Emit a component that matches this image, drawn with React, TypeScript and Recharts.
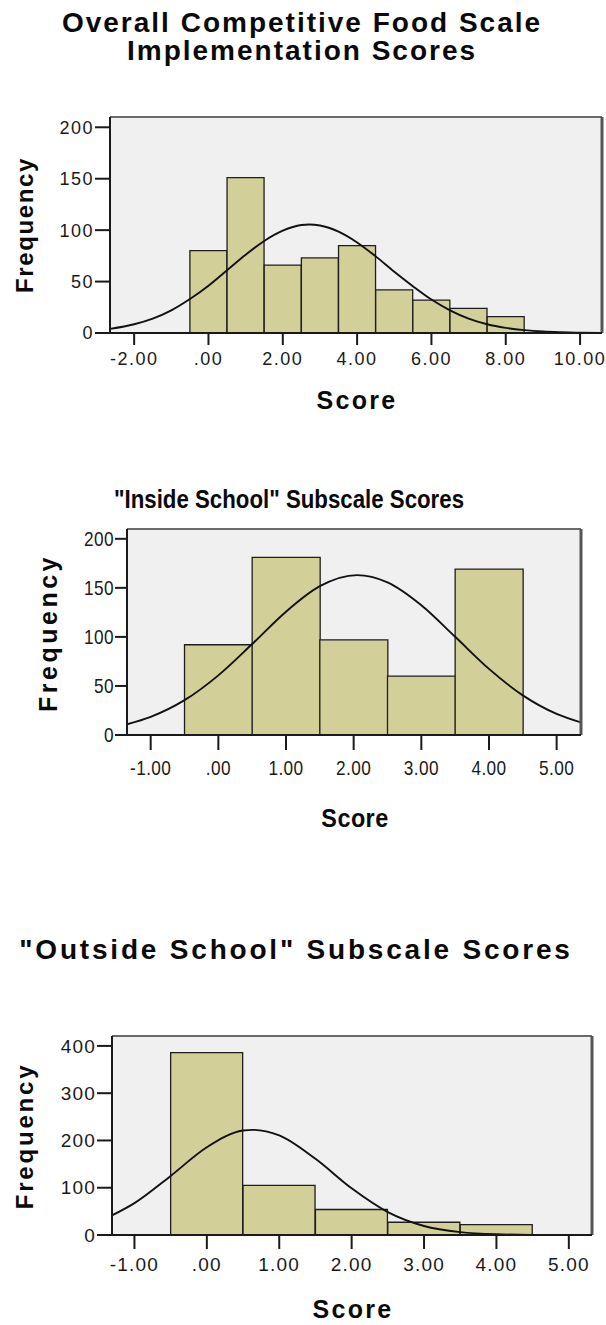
import React from 'react';
import { ComposedChart, Bar, Line, XAxis, YAxis, CartesianGrid, ReferenceLine } from 'recharts';

// ---------- Panel 1: Overall Competitive Food Scale ----------
const overallBinCenters = [0, 1, 2, 3, 4, 5, 6, 7, 8];
const overallCounts = [80, 151, 66, 73, 85, 42, 32, 24, 16];
const overallCurveX = [-2.65, -2, -1.5, -1, -0.5, 0, 0.5, 1, 1.5, 2, 2.5, 2.71, 3, 3.5, 4, 4.5, 5, 5.5, 6, 6.5, 7, 7.5, 8, 8.5, 9, 9.5, 10, 10.59];
const overallCurveY = [4, 8.5, 14, 22, 33, 46, 61, 76, 89.5, 99.5, 105, 105.5, 104.5, 98.5, 88, 74.5, 59.5, 45.5, 32.5, 22, 14, 8.5, 5, 2.8, 1.4, 0.7, 0.3, 0.1];
const overallXDomain = [-2.65, 10.59];
const overallYDomain = [0, 210];
const overallXTicks = [-2, 0, 2, 4, 6, 8, 10];
const overallYTicks = [0, 50, 100, 150, 200];

// ---------- Panel 2: "Inside School" ----------
const insideBinCenters = [0, 1, 2, 3, 4];
const insideCounts = [92, 181, 97, 60, 169];
const insideCurveX = [-1.35, -1, -0.5, 0, 0.5, 1, 1.5, 2.05, 2.5, 3, 3.5, 4, 4.5, 5, 5.36];
const insideCurveY = [10.9, 18.5, 35.5, 60.8, 92.7, 125.7, 151.7, 163, 155.6, 132.3, 100.1, 67.4, 40.4, 21.5, 12.8];
const insideXDomain = [-1.35, 5.36];
const insideYDomain = [0, 210];
const insideXTicks = [-1, 0, 1, 2, 3, 4, 5];
const insideYTicks = [0, 50, 100, 150, 200];

// ---------- Panel 3: "Outside School" ----------
const outsideBinCenters = [0, 1, 2, 3, 4];
const outsideCounts = [386, 105, 54, 27, 22];
const outsideCurveX = [-1.31, -1, -0.5, 0, 0.5, 0.64, 1, 1.5, 2, 2.5, 3, 3.5, 4, 4.5, 5, 5.32];
const outsideCurveY = [41.5, 67.5, 125, 185.7, 221, 222.5, 210.8, 161.1, 98.7, 48.4, 19, 6, 1.5, 0.3, 0.05, 0.02];
const outsideXDomain = [-1.31, 5.32];
const outsideYDomain = [0, 421];
const outsideXTicks = [-1, 0, 1, 2, 3, 4, 5];
const outsideYTicks = [0, 100, 200, 300, 400];

const SANS = "'Liberation Sans', Arial, Helvetica, sans-serif";

const fmtScore = (v: number) => (v === 0 ? '.00' : v.toFixed(2));
const fmtCount = (v: number) => String(v);

type TickCfg = { size: number; spacing: number; squeeze: number };

function makeTick(cfg: TickCfg, fmt: (v: number) => string) {
  return (props: any) => {
    const { x, y, payload, textAnchor, verticalAnchor } = props;
    const dy = verticalAnchor === 'start' ? '0.71em' : verticalAnchor === 'end' ? '0em' : '0.355em';
    return (
      <g transform={`translate(${x},${y}) scale(${cfg.squeeze},1)`}>
        <text
          x={0}
          y={0}
          dy={dy}
          textAnchor={textAnchor}
          fontFamily={SANS}
          fontSize={cfg.size}
          fill="#1a1a1a"
          letterSpacing={cfg.spacing}
        >
          {fmt(payload.value)}
        </text>
      </g>
    );
  };
}

type PanelProps = {
  centers: number[];
  counts: number[];
  curveX: number[];
  curveY: number[];
  xDomain: number[];
  yDomain: number[];
  xTicks: number[];
  yTicks: number[];
  height: number;
  margin: { top: number; right: number; bottom: number; left: number };
  yAxisWidth: number;
  tick: TickCfg;
  xTickSize: number;
  xTickMargin: number;
  yTickSize: number;
};

function Panel(p: PanelProps) {
  const bins = p.centers.map((x, i) => ({ x, count: p.counts[i] }));
  const curve = p.curveX.map((x, i) => ({ x, y: p.curveY[i] }));
  return (
    <ComposedChart
      width={606}
      height={p.height}
      data={bins}
      margin={p.margin}
      barCategoryGap={0}
      barGap={0}
    >
      <CartesianGrid fill="#F0F0F0" horizontal={false} vertical={false} stroke="none" />
      <XAxis
        xAxisId="bars"
        type="number"
        dataKey="x"
        domain={p.xDomain}
        allowDataOverflow
        hide
      />
      <XAxis
        type="number"
        dataKey="x"
        domain={p.xDomain}
        ticks={p.xTicks}
        allowDataOverflow
        height={40}
        tickSize={p.xTickSize}
        tickMargin={p.xTickMargin}
        interval={0}
        axisLine={{ stroke: '#1a1a1a', strokeWidth: 2 }}
        tickLine={{ stroke: '#1a1a1a', strokeWidth: 2 }}
        tick={makeTick(p.tick, fmtScore)}
      />
      <YAxis
        type="number"
        domain={p.yDomain}
        ticks={p.yTicks}
        allowDataOverflow
        width={p.yAxisWidth}
        tickSize={p.yTickSize}
        tickMargin={1}
        interval={0}
        axisLine={{ stroke: '#1a1a1a', strokeWidth: 2 }}
        tickLine={{ stroke: '#1a1a1a', strokeWidth: 2 }}
        tick={makeTick(p.tick, fmtCount)}
      />
      <Bar
        xAxisId="bars"
        dataKey="count"
        fill="#D3CF98"
        stroke="#1e1e1e"
        strokeWidth={1.3}
        isAnimationActive={false}
      />
      <Line
        data={curve}
        dataKey="y"
        type="monotone"
        dot={false}
        activeDot={false}
        stroke="#111"
        strokeWidth={1.9}
        isAnimationActive={false}
      />
      <ReferenceLine y={p.yDomain[1]} stroke="#6a6a6a" strokeWidth={2} />
      <ReferenceLine x={p.xDomain[1]} stroke="#555" strokeWidth={3} />
    </ComposedChart>
  );
}

const boldLabel: React.CSSProperties = {
  position: 'absolute',
  fontFamily: SANS,
  fontWeight: 700,
  color: '#0a0a0a',
  whiteSpace: 'nowrap',
};

function RotLabel({ cx, cy, text, size, spacing }: { cx: number; cy: number; text: string; size: number; spacing: number }) {
  return (
    <div
      style={{
        ...boldLabel,
        left: cx,
        top: cy,
        fontSize: size,
        lineHeight: `${size}px`,
        letterSpacing: spacing,
        transform: 'translate(-50%, -50%) rotate(-90deg)',
      }}
    >
      {text}
    </div>
  );
}

function CenterLabel({ cx, cy, text, size, spacing, squeeze }: { cx: number; cy: number; text: string; size: number; spacing: number; squeeze?: number }) {
  return (
    <div
      style={{
        ...boldLabel,
        left: cx,
        top: cy,
        fontSize: size,
        lineHeight: `${size}px`,
        letterSpacing: spacing,
        transform: `translate(-50%, -50%) scaleX(${squeeze || 1})`,
      }}
    >
      {text}
    </div>
  );
}

export default function App() {
  return (
    <div style={{ position: 'absolute', left: 0, top: 0, width: 606, height: 1325, background: '#fff', overflow: 'hidden' }}>
      <div style={{ position: 'absolute', left: 0, top: 0 }}>
        <Panel
          centers={overallBinCenters}
          counts={overallCounts}
          curveX={overallCurveX}
          curveY={overallCurveY}
          xDomain={overallXDomain}
          yDomain={overallYDomain}
          xTicks={overallXTicks}
          yTicks={overallYTicks}
          height={420}
          margin={{ top: 117, right: 4, bottom: 47, left: 0 }}
          yAxisWidth={110}
          tick={{ size: 18, spacing: 1.5, squeeze: 1 }}
          xTickSize={12}
          xTickMargin={7}
          yTickSize={15}
        />
      </div>
      <div style={{ position: 'absolute', left: 0, top: 460 }}>
        <Panel
          centers={insideBinCenters}
          counts={insideCounts}
          curveX={insideCurveX}
          curveY={insideCurveY}
          xDomain={insideXDomain}
          yDomain={insideYDomain}
          xTicks={insideXTicks}
          yTicks={insideYTicks}
          height={390}
          margin={{ top: 69, right: 25, bottom: 75, left: 0 }}
          yAxisWidth={127}
          tick={{ size: 21, spacing: 0.5, squeeze: 0.82 }}
          xTickSize={15}
          xTickMargin={10}
          yTickSize={12}
        />
      </div>
      <div style={{ position: 'absolute', left: 0, top: 900 }}>
        <Panel
          centers={outsideBinCenters}
          counts={outsideCounts}
          curveX={outsideCurveX}
          curveY={outsideCurveY}
          xDomain={outsideXDomain}
          yDomain={outsideYDomain}
          xTicks={outsideXTicks}
          yTicks={outsideYTicks}
          height={425}
          margin={{ top: 136, right: 14, bottom: 50, left: 0 }}
          yAxisWidth={112}
          tick={{ size: 19, spacing: 1.2, squeeze: 1 }}
          xTickSize={14}
          xTickMargin={8}
          yTickSize={15}
        />
      </div>

      {/* Titles */}
      <CenterLabel cx={302} cy={23} text="Overall Competitive Food Scale" size={28} spacing={2} />
      <CenterLabel cx={302} cy={51} text="Implementation Scores" size={28} spacing={2} />
      <CenterLabel cx={289} cy={499} text={'"Inside School" Subscale Scores'} size={25} spacing={0} squeeze={0.89} />
      <CenterLabel cx={296} cy={950} text={'"Outside School" Subscale Scores'} size={28} spacing={2.8} />

      {/* Axis titles */}
      <RotLabel cx={25} cy={225} text="Frequency" size={24} spacing={1.6} />
      <RotLabel cx={48} cy={633} text="Frequency" size={25} spacing={3.5} />
      <RotLabel cx={25} cy={1136} text="Frequency" size={24} spacing={2.8} />
      <CenterLabel cx={357} cy={400} text="Score" size={25} spacing={2.3} />
      <CenterLabel cx={355} cy={818} text="Score" size={26} spacing={0.5} squeeze={0.9} />
      <CenterLabel cx={353} cy={1309} text="Score" size={25} spacing={2.3} />
    </div>
  );
}
